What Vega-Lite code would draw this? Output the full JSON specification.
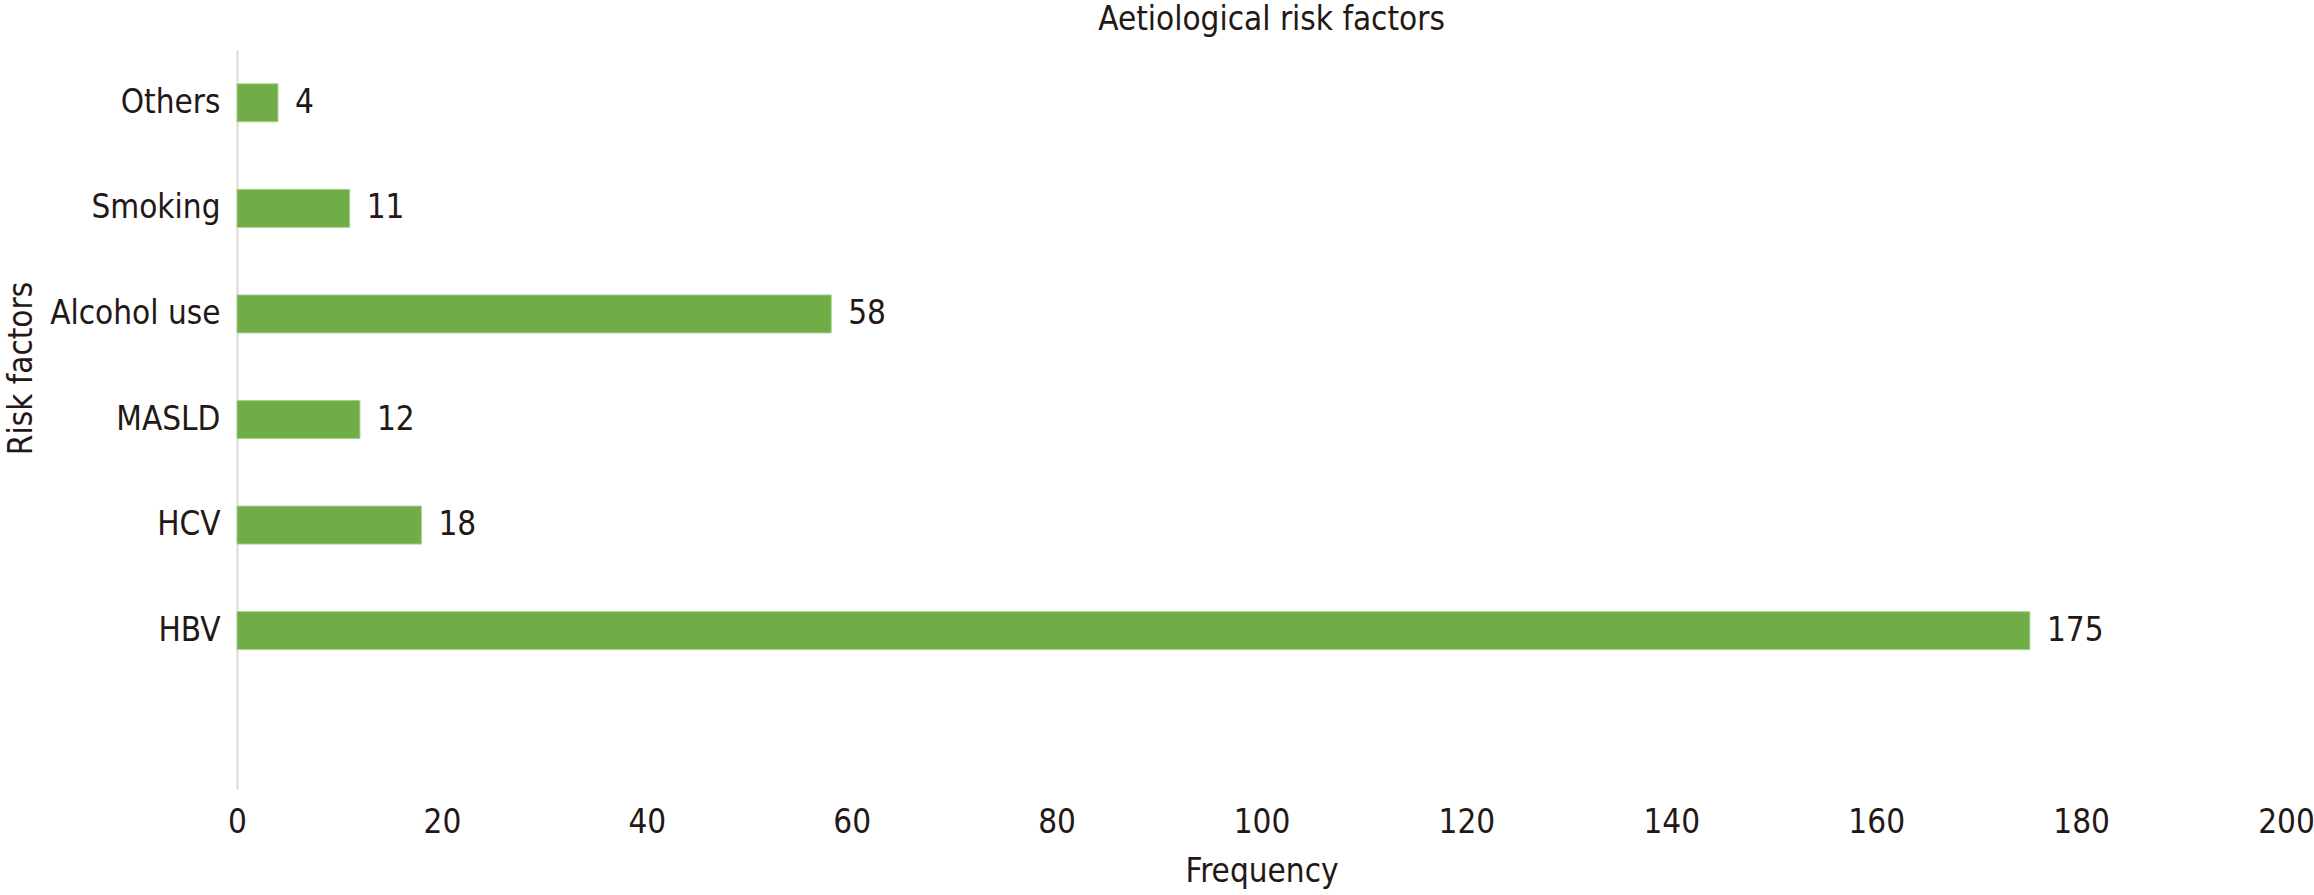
{
  "$schema": "https://vega.github.io/schema/vega-lite/v6.json",
  "width": 2049,
  "height": 739,
  "autosize": {"type": "none"},
  "padding": {"left": 237, "top": 50, "right": 28, "bottom": 106},
  "background": "white",
  "config": {
    "view": {"stroke": null},
    "font": "DejaVu Sans Condensed",
    "text": {"font": "DejaVu Sans Condensed"}
  },
  "title": {
    "text": "Aetiological risk factors",
    "font": "DejaVu Sans Condensed",
    "fontSize": 33,
    "fontWeight": "normal",
    "color": "#231815",
    "anchor": "middle",
    "offset": 13,
    "dx": 10
  },
  "data": {
    "values": [
      {"Risk factor": "Others", "Frequency": 4},
      {"Risk factor": "Smoking", "Frequency": 11},
      {"Risk factor": "Alcohol use", "Frequency": 58},
      {"Risk factor": "MASLD", "Frequency": 12},
      {"Risk factor": "HCV", "Frequency": 18},
      {"Risk factor": "HBV", "Frequency": 175}
    ]
  },
  "encoding": {
    "y": {
      "field": "Risk factor",
      "type": "nominal",
      "sort": null,
      "scale": {
        "domain": ["Others", "Smoking", "Alcohol use", "MASLD", "HCV", "HBV", ""],
        "paddingInner": 0.64,
        "paddingOuter": 0.32
      },
      "axis": {
        "title": "Risk factors",
        "titleFont": "DejaVu Sans Condensed",
        "titleFontSize": 33,
        "titleFontWeight": "normal",
        "titleColor": "#231815",
        "titleAngle": 270,
        "titleAlign": "center",
        "titleBaseline": "alphabetic",
        "titleX": -206,
        "titleY": 318,
        "labelFont": "DejaVu Sans Condensed",
        "labelFontSize": 33,
        "labelColor": "#231815",
        "labelPadding": 17,
        "labelLimit": 400,
        "ticks": false,
        "domainColor": "#d9d9d9",
        "domainWidth": 2,
        "grid": false
      }
    },
    "x": {
      "field": "Frequency",
      "type": "quantitative",
      "scale": {"domain": [0, 200], "nice": false},
      "axis": {
        "values": [0, 20, 40, 60, 80, 100, 120, 140, 160, 180, 200],
        "title": "Frequency",
        "titleFont": "DejaVu Sans Condensed",
        "titleFontSize": 33,
        "titleFontWeight": "normal",
        "titleColor": "#231815",
        "titlePadding": 16,
        "labelFont": "DejaVu Sans Condensed",
        "labelFontSize": 33,
        "labelColor": "#231815",
        "labelPadding": 17,
        "labelFlush": false,
        "labelOverlap": false,
        "ticks": false,
        "domain": false,
        "grid": false
      }
    }
  },
  "layer": [
    {
      "mark": {"type": "bar", "color": "#70ad47", "stroke": "#a9d18e", "strokeWidth": 1}
    },
    {
      "mark": {
        "type": "text",
        "align": "left",
        "baseline": "middle",
        "dx": 17,
        "fontSize": 33,
        "color": "#231815"
      },
      "encoding": {
        "text": {"field": "Frequency", "type": "quantitative"}
      }
    }
  ]
}
